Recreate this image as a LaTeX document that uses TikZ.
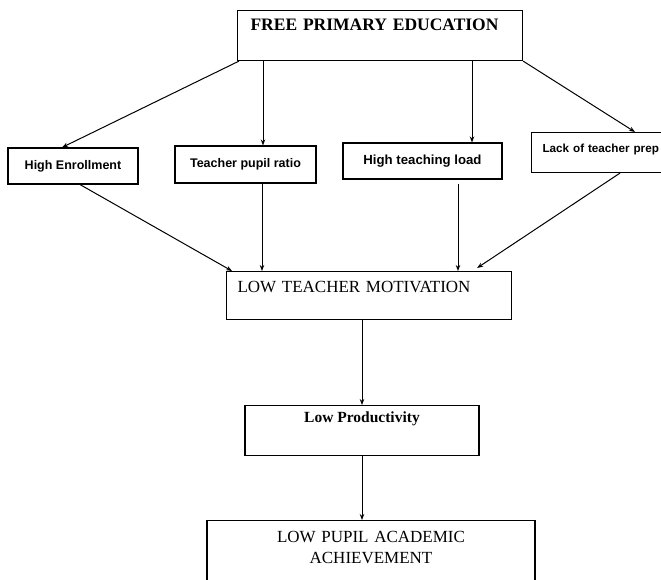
\documentclass[tikz,border=0pt]{standalone}
\usepackage{fontspec}
\setmainfont{Liberation Serif}
\newfontfamily\arialfont{Liberation Sans}
\usetikzlibrary{arrows.meta}
\tikzset{
  box/.style={draw, line width=1.1pt, inner sep=0pt},
  smallbox/.style={box, font=\arialfont\bfseries\fontsize{12.5}{15}\selectfont},
  arr/.style={line width=1pt, -{Stealth[length=6pt,width=4.5pt]}}
}
\begin{document}
\begin{tikzpicture}[x=1pt, y=-1pt]
    \useasboundingbox (0,0) rectangle (661,580);
    \node[box, anchor=north west, inner xsep=13pt, text width=259pt, align=left,
          text height=20pt, text depth=30pt, font=\bfseries\fontsize{17.5}{21}\selectfont]
          (free) at (237,10) {FREE PRIMARY EDUCATION};
    \node[smallbox, minimum width=130pt, minimum height=36pt] (enr) at (73,166) {High Enrollment};
    \node[smallbox, minimum width=141pt, minimum height=37pt] (tpr) at (245.5,164.5) {Teacher pupil ratio};
    \node[smallbox, minimum width=159pt, minimum height=36pt, font=\arialfont\bfseries\fontsize{13.2}{16}\selectfont]
          (htl) at (422.5,161) {High teaching load};
    \node[smallbox, anchor=north west, inner xsep=11pt, text width=150pt, align=left,
          text height=20pt, text depth=20pt, font=\arialfont\bfseries\fontsize{11.7}{14}\selectfont]
          (lack) at (531,132) {Lack of teacher prep};
    \node[box, anchor=north west, inner xsep=11pt, text width=263pt, align=left,
          text height=21pt, text depth=27pt, font=\fontsize{17}{20}\selectfont]
          (ltm) at (226,271) {LOW TEACHER MOTIVATION};
    \node[box, anchor=north, minimum width=234pt, text height=17pt, text depth=33pt,
          font=\bfseries\fontsize{15.5}{19}\selectfont]
          (lp) at (362,405) {Low Productivity};
    \node[box, anchor=north, text width=328pt, align=center, text height=22pt, text depth=70pt,
          font=\fontsize{17}{21}\selectfont]
          (lpaa) at (371,520) {LOW PUPIL ACADEMIC\\ACHIEVEMENT};
    \draw[arr] ([xshift=2pt]free.south west) -- ([xshift=-11pt]enr.north);
    \draw[arr] ([xshift=17.5pt]tpr.north |- free.south) -- ([xshift=17.5pt]tpr.north);
    \draw[arr] ([xshift=49.5pt]htl.north |- free.south) -- ([xshift=49.5pt]htl.north);
    \draw[arr] (free.south east) -- ([xshift=104pt]lack.north west);
    \draw[arr] ([xshift=7pt]enr.south) -- ([xshift=6pt]ltm.north west);
    \draw[arr] ([xshift=16.5pt]tpr.south) -- ([xshift=16.5pt]tpr.south |- ltm.north);
    \draw[arr] ([xshift=35.5pt,yshift=-4pt]htl.south) -- ([xshift=35.5pt]htl.south |- ltm.north);
    \draw[arr] ([xshift=89pt]lack.south west) -- ([xshift=-35pt,yshift=3pt]ltm.north east);
    \draw[arr] (lp.north |- ltm.south) -- (lp.north);
    \draw[arr] (lp.south) -- (lp.south |- lpaa.north);
\end{tikzpicture}
\end{document}
